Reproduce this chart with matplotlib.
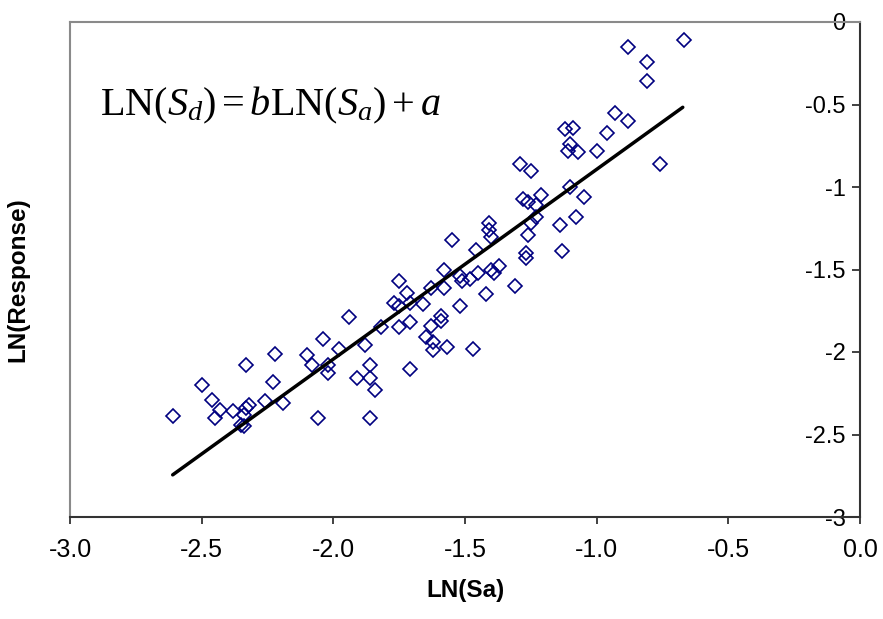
import numpy as np
import matplotlib
matplotlib.use('Agg')
import matplotlib.pyplot as plt

plt.rcParams['font.family'] = ['Liberation Sans', 'DejaVu Sans']
plt.rcParams['mathtext.fontset'] = 'custom'
plt.rcParams['mathtext.rm'] = 'Liberation Serif'
plt.rcParams['mathtext.it'] = 'Liberation Serif:italic'

# LN(Sa) vs LN(Response)
ln_sa = [-2.61, -2.50, -2.46, -2.43, -2.45, -2.38, -2.33, -2.32, -2.33, -2.34,
         -2.35, -2.34, -2.26, -2.22, -2.23, -2.19, -2.10, -2.08, -2.04, -2.06,
         -2.02, -2.02, -1.46, -1.58, -1.75, -1.72, -1.77, -1.75, -1.71, -1.66,
         -1.63, -1.58, -1.52, -1.48, -1.45, -1.52, -1.94, -1.82, -1.75, -1.71,
         -1.63, -1.59, -1.59, -1.98, -1.88, -1.65, -1.62, -1.62, -1.57, -1.47,
         -1.86, -1.91, -1.86, -1.84, -1.71, -1.86, -1.55, -1.10, -1.05, -1.28,
         -1.26, -1.21, -1.23, -1.41, -1.41, -1.40, -1.25, -1.23, -1.26, -1.14,
         -1.08, -1.27, -1.27, -1.13, -1.51, -1.40, -1.39, -1.37, -1.31, -1.42,
         -0.93, -0.88, -1.12, -1.09, -0.96, -1.10, -1.11, -1.07, -1.00, -1.29,
         -1.25, -0.67, -0.88, -0.81, -0.81, -0.76]
ln_resp = [-2.39, -2.20, -2.29, -2.35, -2.40, -2.36, -2.08, -2.32, -2.34, -2.38,
           -2.44, -2.45, -2.30, -2.01, -2.18, -2.31, -2.02, -2.08, -1.92, -2.40,
           -2.13, -2.08, -1.38, -1.50, -1.57, -1.64, -1.70, -1.72, -1.70, -1.71,
           -1.61, -1.61, -1.54, -1.56, -1.52, -1.72, -1.79, -1.85, -1.85, -1.82,
           -1.84, -1.78, -1.81, -1.98, -1.96, -1.91, -1.94, -1.99, -1.97, -1.98,
           -2.08, -2.16, -2.16, -2.23, -2.10, -2.40, -1.32, -1.00, -1.06, -1.07,
           -1.09, -1.05, -1.11, -1.22, -1.26, -1.30, -1.22, -1.18, -1.29, -1.23,
           -1.18, -1.40, -1.43, -1.39, -1.57, -1.50, -1.52, -1.48, -1.60, -1.65,
           -0.55, -0.60, -0.65, -0.64, -0.67, -0.74, -0.78, -0.79, -0.78, -0.86,
           -0.90, -0.11, -0.15, -0.24, -0.36, -0.86]

# regression line LN(Sd) = b LN(Sa) + a
b = 1.15
a = 0.257
fit_x = [-2.61, -0.673]

x_ticks = [-3.0, -2.5, -2.0, -1.5, -1.0, -0.5, 0.0]
y_ticks = [0, -0.5, -1, -1.5, -2, -2.5, -3]

fig = plt.figure(figsize=(8.83, 6.19), dpi=100)
ax = fig.add_axes([70 / 883, 1 - 517 / 619, 790 / 883, 495 / 619])

ax.plot(ln_sa, ln_resp, linestyle='none', marker='D', markersize=7.4,
        markerfacecolor='none', markeredgecolor='#000080', markeredgewidth=1.2)
fx = np.array(fit_x)
ax.plot(fx, b * fx + a, color='black', linewidth=2.5, solid_capstyle='round')

ax.set_xlim(-3, 0)
ax.set_ylim(-3, 0)

# y axis sits at x = 0 with labels inside, box edge at x = -3
ax.spines['left'].set_position(('data', 0))
ax.spines['right'].set_position(('data', -3))
ax.spines['left'].set_color('#333333')
ax.spines['bottom'].set_color('#333333')
ax.spines['right'].set_color('#8a8a8a')
ax.spines['top'].set_color('#8a8a8a')
for s in ax.spines.values():
    s.set_linewidth(1.5)

ax.set_xticks(x_ticks)
ax.set_xticklabels(['%.1f' % v for v in x_ticks])
ax.set_yticks(y_ticks)
ax.set_yticklabels(['%g' % v for v in y_ticks])
ax.tick_params(axis='x', direction='out', length=5, width=1.3, color='#333333',
               labelsize=18, pad=10)
ax.tick_params(axis='y', direction='out', length=5.5, width=1.3, color='#333333',
               labelsize=17, pad=5, right=False)

ax.set_xlabel('LN(Sa)', fontsize=17.5, fontweight='bold', labelpad=12)
fig.text(18 / 883, 1 - 280 / 619, 'LN(Response)', fontsize=17.5, fontweight='bold',
         rotation=90, ha='center', va='center')

ax.text(0.038, 0.812, r'$\mathrm{LN}(S_d){=}b\mathrm{LN}(S_a) + a$',
        transform=ax.transAxes, fontsize=29, va='baseline', ha='left')

fig.savefig('out.png', dpi=100)
